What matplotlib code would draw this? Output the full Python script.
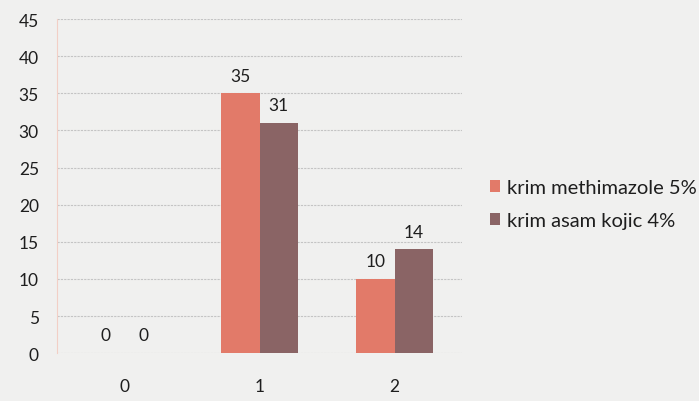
import matplotlib
matplotlib.use("Agg")
import matplotlib.pyplot as plt
import numpy as np

plt.rcParams['font.family'] = ['Lato', 'DejaVu Sans']

categories = ["0", "1", "2"]
series_names = ["krim methimazole 5%", "krim asam kojic 4%"]
methimazole = [0, 35, 10]
kojic = [0, 31, 14]
yticks = [0, 5, 10, 15, 20, 25, 30, 35, 40, 45]

colors = ["#e27a69", "#8a6465"]
bg = "#f0f0ef"
tc = "#1e1e1e"

fig = plt.figure(figsize=(6.99, 4.02), dpi=100, facecolor=bg)
ax = fig.add_axes([0.0815, 0.119, 0.5795, 0.831], facecolor=bg)

x = np.arange(len(categories))
w = 0.283
b1 = ax.bar(x - w/2, methimazole, w, color=colors[0], label=series_names[0], zorder=3)
b2 = ax.bar(x + w/2, kojic, w, color=colors[1], label=series_names[1], zorder=3)

for bars, vals in ((b1, methimazole), (b2, kojic)):
    for rect, v in zip(bars, vals):
        ax.annotate(str(v), (rect.get_x() + rect.get_width()/2, v),
                    xytext=(0, 7), textcoords='offset points',
                    ha='center', va='bottom', fontsize=12.5, color=tc)

ax.set_ylim(0, 45)
ax.set_xlim(-0.5, 2.5)
ax.set_yticks(yticks)
ax.set_xticks(x)
ax.set_xticklabels(categories)
ax.yaxis.grid(True, color="#c4c4c4", linewidth=0.8, linestyle=(0, (2, 1)), zorder=0)
for s in ax.spines.values():
    s.set_visible(False)
ax.spines['left'].set_visible(True)
ax.spines['left'].set_color("#f2cfc6")
ax.tick_params(axis='both', length=0, labelsize=12.5, colors=tc)
ax.tick_params(axis='x', pad=18)
ax.tick_params(axis='y', pad=13)

leg = fig.legend(handles=[b1, b2], labels=series_names, loc='center left',
                 bbox_to_anchor=(0.69, 0.49), frameon=False, fontsize=14.5,
                 handlelength=0.5, handleheight=0.5, handletextpad=0.35, labelspacing=0.8,
                 borderaxespad=0)
for t in leg.get_texts():
    t.set_color(tc)

fig.savefig("out.png", dpi=100, facecolor=bg)
